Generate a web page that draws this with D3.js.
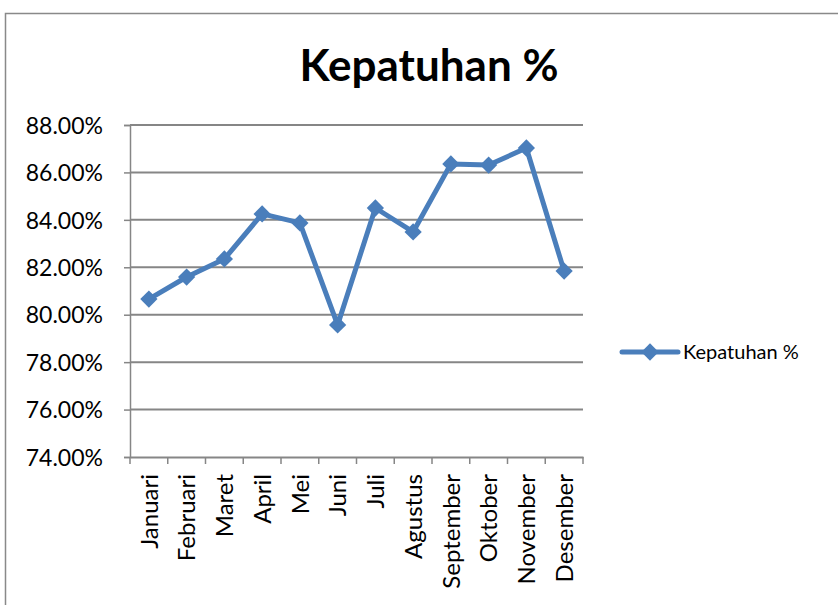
<!DOCTYPE html>
<html>
<head>
<meta charset="utf-8">
<script src="https://cdnjs.cloudflare.com/ajax/libs/d3/7.8.5/d3.min.js"></script>
<style>
  body { margin: 0; background: #fff; }
  svg, svg text { font-family: Lato, "Open Sans", sans-serif; }
  svg { display: block; }
</style>
</head>
<body>
<div id="chart"></div>
<script>

// data
var months = ["Januari", "Februari", "Maret", "April", "Mei", "Juni", "Juli",
              "Agustus", "September", "Oktober", "November", "Desember"];
var kepatuhan = [80.66, 81.59, 82.35, 84.25, 83.87, 79.57, 84.5, 83.49, 86.36, 86.31, 87.03, 81.84];
var yTicks = [74, 76, 78, 80, 82, 84, 86, 88];
var seriesName = "Kepatuhan %";

var W = 838, H = 605;
var margin = {top: 125, left: 130, right: 255, bottom: 148};
var width = W - margin.left - margin.right,
    height = H - margin.top - margin.bottom;

var blue = "#4a7ebb", grid = "#868686";

var svg = d3.select("#chart").append("svg")
    .attr("width", W).attr("height", H);

// outer frame
svg.append("rect")
    .attr("x", 5.5).attr("y", 13.5)
    .attr("width", W + 20).attr("height", H + 20)
    .attr("fill", "none").attr("stroke", "#898989").attr("stroke-width", 1.5);

// title
svg.append("text")
    .attr("x", 429).attr("y", 81)
    .attr("text-anchor", "middle")
    .style("font-size", "44px").style("font-weight", "bold")
    .text("Kepatuhan %");

var g = svg.append("g")
    .attr("transform", "translate(" + margin.left + "," + margin.top + ")");

var x = d3.scaleBand().domain(months).range([0, width]);
var y = d3.scaleLinear().domain([74, 88]).range([height, 0]);

// y axis
var yAxis = g.append("g")
    .call(d3.axisLeft(y).tickValues(yTicks).tickSize(6)
      .tickFormat(function(d) { return d.toFixed(2) + "%"; }))
    .attr("font-family", null);
yAxis.select(".domain").attr("stroke", grid).attr("stroke-width", 1.5);
yAxis.selectAll(".tick line").attr("stroke", grid).attr("stroke-width", 1.5);
yAxis.selectAll(".tick text")
    .attr("x", -27).attr("dy", "0.36em")
    .style("font-size", "23px").attr("fill", "#000");

// horizontal gridlines
g.append("g")
  .selectAll("line")
  .data(yTicks.filter(function(d) { return d > 74; }))
  .enter().append("line")
    .attr("x1", 0).attr("x2", width)
    .attr("y1", function(d) { return y(d); })
    .attr("y2", function(d) { return y(d); })
    .attr("stroke", grid).attr("stroke-width", 2);

// x axis, ticks at category boundaries
var xAxis = g.append("g")
    .attr("transform", "translate(0," + height + ")")
    .call(d3.axisBottom(x).tickSize(0))
    .attr("font-family", null);
xAxis.select(".domain").attr("stroke", grid).attr("stroke-width", 2);
xAxis.selectAll(".tick text")
    .attr("transform", "rotate(-90)")
    .attr("text-anchor", "end")
    .attr("x", -17).attr("y", 0).attr("dy", "0.36em")
    .style("font-size", "24px").attr("fill", "#000");

g.append("g")
  .selectAll("line")
  .data(d3.range(months.length + 1))
  .enter().append("line")
    .attr("x1", function(i) { return i * x.step(); })
    .attr("x2", function(i) { return i * x.step(); })
    .attr("y1", height).attr("y2", height + 7)
    .attr("stroke", grid).attr("stroke-width", 1.5);

// line
var line = d3.line()
    .x(function(d, i) { return x(months[i]) + x.bandwidth() / 2; })
    .y(function(d) { return y(d); });

g.append("path")
    .datum(kepatuhan)
    .attr("d", line)
    .attr("fill", "none")
    .attr("stroke", blue)
    .attr("stroke-width", 5)
    .attr("stroke-linejoin", "round");

// diamond markers
var diamond = d3.symbol().type(d3.symbolDiamond2).size(190);
g.selectAll(".pt")
  .data(kepatuhan)
  .enter().append("path")
    .attr("class", "pt")
    .attr("d", diamond)
    .attr("transform", function(d, i) {
      return "translate(" + (x(months[i]) + x.bandwidth() / 2) + "," + y(d) + ")";
    })
    .attr("fill", blue);

// legend
var lg = svg.append("g").attr("transform", "translate(622,352)");
lg.append("line")
    .attr("x1", 0).attr("x2", 56)
    .attr("stroke", blue).attr("stroke-width", 5).attr("stroke-linecap", "round");
lg.append("path")
    .attr("d", diamond)
    .attr("transform", "translate(28,0)")
    .attr("fill", blue);
lg.append("text")
    .attr("x", 61).attr("dy", "0.36em")
    .style("font-size", "20px")
    .text(seriesName);

</script>
</body>
</html>
